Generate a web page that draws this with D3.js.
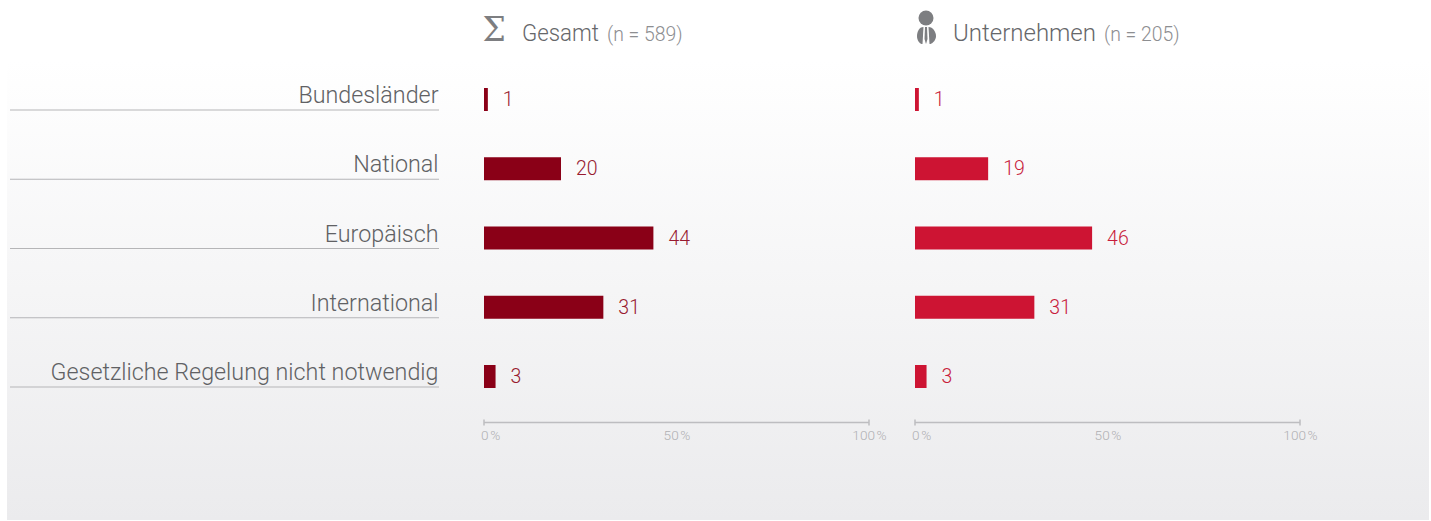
<!DOCTYPE html>
<html lang="de">
<head>
<meta charset="utf-8">
<title>Regelungsebene</title>
<script src="https://cdnjs.cloudflare.com/ajax/libs/d3/7.9.0/d3.min.js"></script>
<style>
  html, body { margin: 0; padding: 0; background: #fff; }
  svg { display: block; font-family: Roboto, "Open Sans", sans-serif; font-weight: 300; }
</style>
</head>
<body>
<svg id="chart" width="1431" height="521"></svg>
<script>
const categories = ["Bundesländer", "National", "Europäisch", "International", "Gesetzliche Regelung nicht notwendig"];
const gesamtValues = [1, 20, 44, 31, 3];
const unternehmenValues = [1, 19, 46, 31, 3];
const axisTicks = [0, 50, 100];

const panels = [
  { name: "Gesamt", n: "(n = 589)", values: gesamtValues, x0: 484, bar: "#8a0017", text: "#981a30", titleX: 522, titleW: 77, nX: 607 },
  { name: "Unternehmen", n: "(n = 205)", values: unternehmenValues, x0: 915, bar: "#cd1433", text: "#c81c3c", titleX: 953, titleW: 143, nX: 1104 }
];

const svg = d3.select("#chart");

// Soft vertical wash behind the whole chart
const grad = svg.append("defs").append("linearGradient")
  .attr("id", "wash").attr("x1", 0).attr("y1", 0).attr("x2", 0).attr("y2", 1);
grad.append("stop").attr("offset", "0%").attr("stop-color", "#ffffff");
grad.append("stop").attr("offset", "100%").attr("stop-color", "#ebebed");
svg.append("rect").attr("x", 7).attr("y", 60).attr("width", 1422).attr("height", 460).attr("fill", "url(#wash)");

const y = d3.scalePoint().domain(categories).range([88, 365]);
const barH = 23;

// Row labels with their rules
const rows = svg.append("g").selectAll("g").data(categories).join("g")
  .attr("transform", d => `translate(0,${y(d)})`);
rows.append("line").attr("x1", 10).attr("x2", 439).attr("y1", 22).attr("y2", 22)
  .attr("stroke", "#b5b5b7").attr("stroke-width", 1.2);
rows.append("text").attr("x", 438.5).attr("y", 15).attr("text-anchor", "end")
  .attr("font-size", 23.3).attr("fill", "#606164").text(d => d);

panels.forEach(p => {
  const x = d3.scaleLinear().domain([0, 100]).range([p.x0, p.x0 + 385]);
  const g = svg.append("g");

  g.selectAll("rect.bar").data(p.values).join("rect").attr("class", "bar")
    .attr("x", x(0)).attr("y", (d, i) => y(categories[i]))
    .attr("width", d => x(d) - x(0)).attr("height", barH).attr("fill", p.bar);

  g.selectAll("text.val").data(p.values).join("text").attr("class", "val")
    .attr("x", d => x(d) + 15).attr("y", (d, i) => y(categories[i]) + 18)
    .attr("font-size", 19.5).attr("fill", p.text).text(d => d);

  // Percent axis
  const axis = d3.axisBottom(x).tickValues(axisTicks).tickSize(0).tickPadding(0)
    .tickFormat(d => `${d}\u202f%`);
  const ag = g.append("g").attr("transform", "translate(0,422.5)").call(axis);
  ag.select(".domain").attr("stroke", "#bdbdc0").attr("stroke-width", 1.5).attr("d", `M${x(0)},-3V3M${x(0)},0H${x(100)}M${x(100)},-3V3`);
  ag.selectAll("text").attr("dy", 0).attr("y", 17)
    .attr("text-anchor", d => d === 0 ? "start" : "middle")
    .attr("dx", d => d === 0 ? -3.5 : 0)
    .attr("font-size", 13.6).attr("font-family", "Roboto, sans-serif").attr("fill", "#b0b0b3").style("font-weight", 300);

  // Panel heading
  g.append("text").attr("x", p.titleX).attr("y", 41).attr("font-size", 24)
    .attr("textLength", p.titleW).attr("lengthAdjust", "spacingAndGlyphs").attr("fill", "#66676a").text(p.name);
  g.append("text").attr("x", p.nX).attr("y", 41).attr("font-size", 19.4).attr("fill", "#8d8e91").text(p.n);
});

// Sum sign above the first panel
svg.append("text").attr("x", 482.5).attr("y", 41).attr("font-size", 33)
  .attr("font-family", "DejaVu Serif, serif").style("font-weight", 400).attr("fill", "#7d7e81").text("\u03a3");

// Person-with-tie pictogram above the second panel
const person = svg.append("g").attr("fill", "#7d7e81");
person.append("circle").attr("cx", 926).attr("cy", 18).attr("r", 7.5);
person.append("path").attr("d", "M923.5,27 C919,27 917,32 917,36 C917,40 919,43 921.5,44 L922.5,44 L923.5,27Z");
person.append("path").attr("d", "M928.5,27 C933,27 936,32 936,36 C936,40 933,43 930.5,44 L929.5,44 L928.5,27Z");
person.append("path").attr("d", "M925,27 L927,27 L927.5,39 L926,44 L924.5,39Z");
</script>
</body>
</html>
